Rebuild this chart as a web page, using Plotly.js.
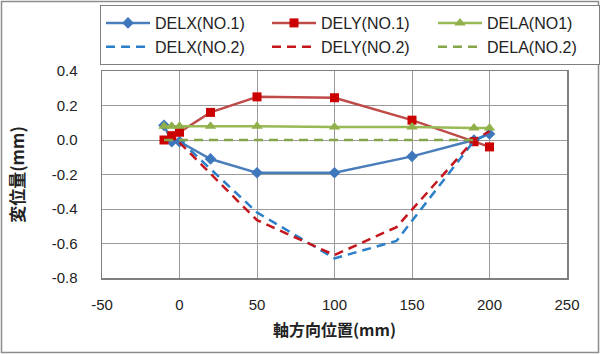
<!DOCTYPE html>
<html>
<head>
<meta charset="utf-8">
<script src="https://cdn.plot.ly/plotly-3.0.1.min.js"></script>
<style>
html,body{margin:0;padding:0;background:#fff;overflow:hidden;width:600px;height:354px}
#chart{width:600px;height:361px;margin-top:-7px}
</style>
</head>
<body>
<div id="chart"></div>
<script>
// x positions (mm)
const xNo1 = [-10, -5, 0, 20, 50, 100, 150, 190, 200];
const xNo2 = [0, 50, 100, 140, 190, 200];
const xDelaNo2 = [-10, -5, 0, 20, 50, 100, 150, 190];

// displacement values (mm)
const delxNo1 = [0.085, -0.01, -0.01, -0.11, -0.19, -0.19, -0.095, 0.0, 0.035];
const delyNo1 = [0.0, 0.025, 0.045, 0.16, 0.25, 0.245, 0.115, -0.01, -0.04];
const delaNo1 = [0.08, 0.08, 0.08, 0.08, 0.08, 0.075, 0.075, 0.07, 0.07];
const delxNo2 = [0.0, -0.42, -0.686, -0.585, -0.005, 0.04];
const delyNo2 = [-0.015, -0.465, -0.667, -0.505, 0.0, 0.05];
const delaNo2 = [0, 0, 0, 0, 0, 0, 0, 0];

const names = ['DELX(NO.1)', 'DELY(NO.1)', 'DELA(NO1)', 'DELX(NO.2)', 'DELY(NO.2)', 'DELA(NO.2)'];
const xTickVals = [-50, 0, 50, 100, 150, 200, 250];
const xTickText = ['-50', '0', '50', '100', '150', '200', '250'];
const yTickVals = [0.4, 0.2, 0.0, -0.2, -0.4, -0.6, -0.8];
const yTickText = ['0.4', '0.2', '0.0', '-0.2', '-0.4', '-0.6', '-0.8'];
const xTitle = '軸方向位置(mm)';
const yTitle = '変位量(mm)';

const traces = [
  {x: xNo1, y: delxNo1, name: names[0], mode: 'lines+markers',
   line: {color: '#4a7ebb', width: 2.5}, marker: {symbol: 'diamond', size: 9, color: '#3f77bc'}},
  {x: xNo1, y: delyNo1, name: names[1], mode: 'lines+markers',
   line: {color: '#be4b48', width: 2.5}, marker: {symbol: 'square', size: 9, color: '#cc0000'}},
  {x: xNo1, y: delaNo1, name: names[2], mode: 'lines+markers',
   line: {color: '#98b954', width: 2.5}, marker: {symbol: 'triangle-up', size: 10, color: '#8fb04a'}},
  {x: xNo2, y: delxNo2, name: names[3], mode: 'lines',
   line: {color: '#2a7fc8', width: 2.5, dash: '9px,6px'}},
  {x: xNo2, y: delyNo2, name: names[4], mode: 'lines',
   line: {color: '#c4161c', width: 2.5, dash: '9px,6px'}},
  {x: xDelaNo2, y: delaNo2, name: names[5], mode: 'lines',
   line: {color: '#86a548', width: 2.5, dash: '9px,6px'}}
];

// figure is 7px taller and shifted up by 7px (screen coords below)
const SHIFT = 7;
const W = 600, H = 354 + SHIFT;
const L = 102, R = 567, T = 71 + SHIFT, B = 278 + SHIFT;
const pw = R - L, ph = B - T;
const px = v => (v - L) / pw;
const py = v => (B - (v + SHIFT)) / ph;

const layout = {
  width: W, height: H,
  margin: {l: L, r: W - R, t: T, b: H - B},
  paper_bgcolor: '#ffffff', plot_bgcolor: '#ffffff',
  font: {family: 'Liberation Sans, Arial, sans-serif', size: 15, color: '#222'},
  showlegend: true,
  legend: {
    orientation: 'h', x: px(100), xanchor: 'left', y: py(5), yanchor: 'top',
    bordercolor: '#7f7f7f', borderwidth: 1, bgcolor: '#fff',
    font: {family: 'Liberation Sans, Arial, sans-serif', size: 16, color: '#222'},
    entrywidth: 107, entrywidthmode: 'pixels', traceorder: 'normal', itemwidth: 44
  },
  xaxis: {
    range: [-50, 250], tickvals: xTickVals, ticktext: xTickText, showgrid: true, gridcolor: '#9a9a9a', gridwidth: 1,
    zeroline: false, showline: true, mirror: true, linecolor: '#7f7f7f', linewidth: 1.5,
    ticks: 'outside', ticklen: 12, tickcolor: 'rgba(0,0,0,0)',
    title: {text: xTitle, font: {family: 'Noto Sans CJK JP, sans-serif', size: 16, color: '#222', weight: 'bold'}, standoff: 13}
  },
  yaxis: {
    range: [-0.8, 0.4], tickvals: yTickVals, ticktext: yTickText, showgrid: true, gridcolor: '#9a9a9a', gridwidth: 1,
    zeroline: false, showline: true, mirror: true, linecolor: '#7f7f7f', linewidth: 1.5,
    ticks: 'outside', ticklen: 20, tickcolor: 'rgba(0,0,0,0)',
    title: {text: yTitle, font: {family: 'Noto Sans CJK JP, sans-serif', size: 17, color: '#222', weight: 'bold'}, standoff: 22}
  },
  shapes: [{
    type: 'rect', xref: 'paper', yref: 'paper',
    x0: px(1.5), x1: px(598.5), y0: py(352.5), y1: py(1.5),
    line: {color: '#8c8c8c', width: 1.5}, fillcolor: 'rgba(0,0,0,0)', layer: 'below'
  }]
};

Plotly.newPlot('chart', traces, layout, {staticPlot: true, displayModeBar: false});
</script>
</body>
</html>
